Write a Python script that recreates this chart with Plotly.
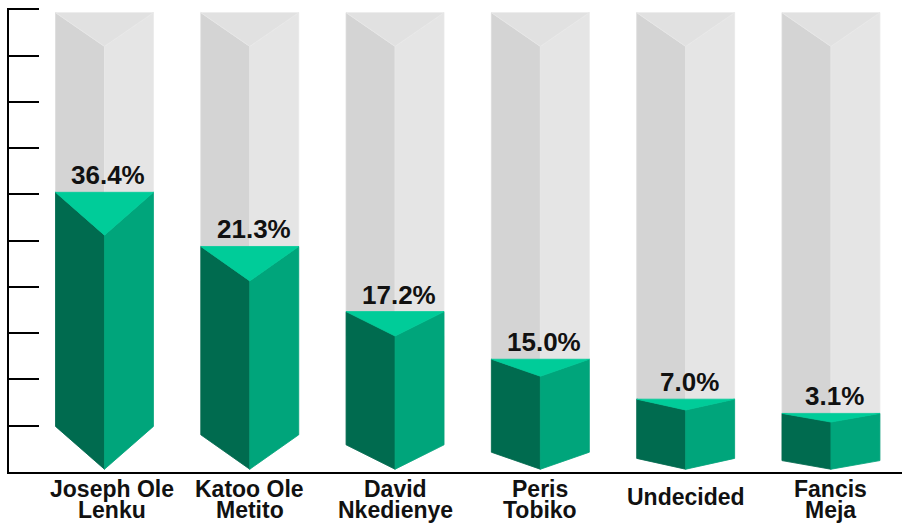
import plotly.graph_objects as go

# ---- data ----
label_lines = [["Joseph Ole", "Lenku"], ["Katoo Ole", "Metito"], ["David", "Nkedienye"],
               ["Peris", "Tobiko"], ["Undecided"], ["Fancis", "Meja"]]
values = [36.4, 21.3, 17.2, 15.0, 7.0, 3.1]            # printed percentages
bar_heights = [50.6, 40.7, 28.8, 20.1, 12.8, 10.2]     # drawn front-edge heights (axis units)
y_ticks = list(range(0, 101, 10))

# ---- style / geometry ----
BASE = 0.6          # bottom apex above axis
HALF_W = 0.337      # half bar width (category units)
DEPTH_K = 0.183     # perspective depth as fraction of height
BG_APEX = 92.0      # background prism front-edge top
BG_DEPTH = 7.3      # background prism top depth
GRAY_L, GRAY_R, GRAY_T = "#d4d4d4", "#e5e5e5", "#e1e1e1"
GREEN_L, GREEN_R, GREEN_T = "#006b4f", "#00a57b", "#00cc99"
FONT = "Arial, Liberation Sans, sans-serif"

fig = go.Figure()


def poly(xs, ys, color, line_color=None):
    fig.add_trace(go.Scatter(
        x=xs + [xs[0]], y=ys + [ys[0]], mode="lines", fill="toself",
        fillcolor=color, line=dict(color=line_color or color, width=0.8),
        hoverinfo="skip", showlegend=False))


for i, h in enumerate(bar_heights):
    xl, xc, xr = i - HALF_W, i, i + HALF_W
    d = DEPTH_K * h
    b = BASE
    # background gray prism
    g_apex, g_back = BG_APEX, BG_APEX + BG_DEPTH
    poly([xl, xc, xc, xl], [g_back, g_apex, b, b + d], GRAY_L, "#dcdcdc")
    poly([xc, xr, xr, xc], [g_apex, g_back, b + d, b], GRAY_R, "#e9e9e9")
    poly([xl, xr, xc], [g_back, g_back, g_apex], GRAY_T, "#e9e9e9")
    # green prism
    top_apex, top_back = b + h, b + h + d
    poly([xl, xc, xc, xl], [top_back, top_apex, b, b + d], GREEN_L)
    poly([xc, xr, xr, xc], [top_apex, top_back, b + d, b], GREEN_R)
    poly([xl, xr, xc], [top_back, top_back, top_apex], GREEN_T)
    # value label
    fig.add_annotation(x=i, y=top_back, text=f"{values[i]:.1f}%", showarrow=False,
                       xref="x", yref="y", yanchor="bottom", xshift=4,
                       font=dict(family=FONT, size=26, color="#111111", weight="bold"))
    # category label (tight two-line spacing)
    lines = label_lines[i]
    shifts = [-17, -38] if len(lines) == 2 else [-25]
    for ln, s in zip(lines, shifts):
        fig.add_annotation(x=i, y=0, text=ln, showarrow=False, xref="x", yref="paper",
                           yanchor="middle", yshift=s, xshift=(8 if i == 0 else 0),
                           font=dict(family=FONT, size=23, color="#111111", weight="bold"))

fig.update_xaxes(range=[-0.657, 5.489], showline=True, linewidth=2, linecolor="black",
                 showgrid=False, zeroline=False, showticklabels=False, ticks="")
fig.update_yaxes(range=[0, 100.3], tickvals=y_ticks, showline=True, linewidth=2,
                 linecolor="black", ticks="inside", ticklen=30, tickwidth=2,
                 tickcolor="black", showgrid=False, zeroline=False, showticklabels=False,
                 layer="above traces")
fig.update_layout(width=902, height=524, margin=dict(l=9, r=0, t=8, b=52),
                  plot_bgcolor="white", paper_bgcolor="white", showlegend=False)

fig.write_html("out.html", config={"displayModeBar": False},
               post_script="document.body.style.margin='0';document.body.style.overflow='hidden';")
